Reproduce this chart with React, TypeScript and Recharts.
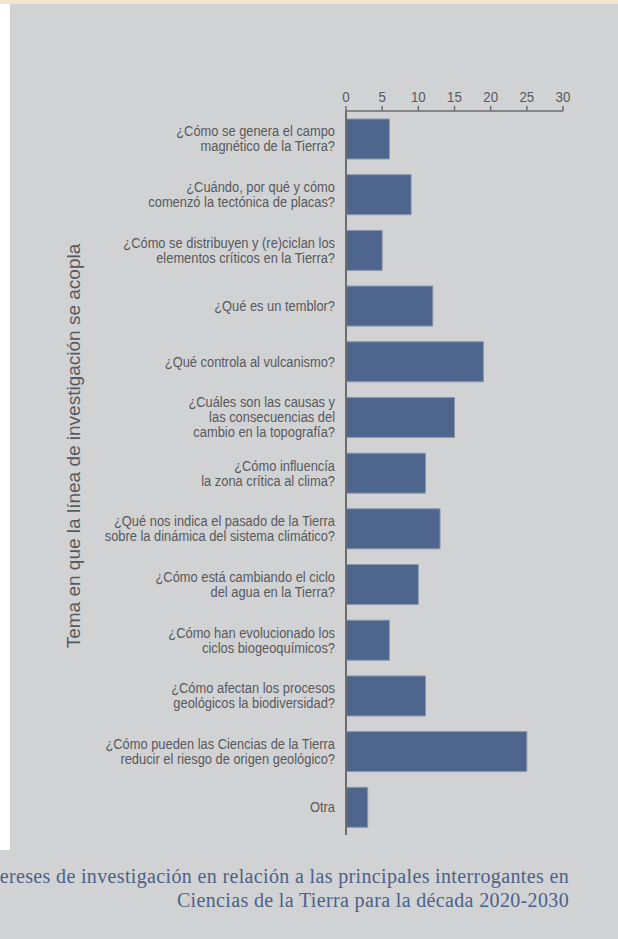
import React from "react";
import { BarChart, Bar, XAxis, YAxis } from "recharts";

// preguntas (saltos de línea como en la figura)
const categories = [
  "¿Cómo se genera el campo\nmagnético de la Tierra?",
  "¿Cuándo, por qué y cómo\ncomenzó la tectónica de placas?",
  "¿Cómo se distribuyen y (re)ciclan los\nelementos críticos en la Tierra?",
  "¿Qué es un temblor?",
  "¿Qué controla al vulcanismo?",
  "¿Cuáles son las causas y\nlas consecuencias del\ncambio en la topografía?",
  "¿Cómo influencía\nla zona crítica al clima?",
  "¿Qué nos indica el pasado de la Tierra\nsobre la dinámica del sistema climático?",
  "¿Cómo está cambiando el ciclo\ndel agua en la Tierra?",
  "¿Cómo han evolucionado los\nciclos biogeoquímicos?",
  "¿Cómo afectan los procesos\ngeológicos la biodiversidad?",
  "¿Cómo pueden las Ciencias de la Tierra\nreducir el riesgo de origen geológico?",
  "Otra",
];
const counts = [6, 9, 5, 12, 19, 15, 11, 13, 10, 6, 11, 25, 3];
const xTicks = [0, 5, 10, 15, 20, 25, 30];

const yTitle = "Tema en que la línea de investigación se acopla";
const captionLines = [
  "ereses de investigación en relación a las principales interrogantes en",
  "Ciencias de la Tierra para la década 2020-2030",
];

const data = categories.map((c, i) => ({ name: c, value: counts[i] }));

const TEXT = "#58595b";
const AXIS = "#6d6e70";
const SANS = "'Liberation Sans', Arial, sans-serif";
const SQUEEZE = 0.92; // la fuente original es condensada

const CategoryTick = ({ x, y, payload }: { x?: number; y?: number; payload?: { value: string } }) => {
  const lines = String(payload?.value ?? "").split("\n");
  const lh = 15;
  const y0 = -((lines.length - 1) * lh) / 2;
  return (
    <g transform={`translate(${x},${y}) scale(${SQUEEZE},1)`}>
      {lines.map((l, i) => (
        <text
          key={i}
          x={0}
          y={y0 + i * lh}
          dy="0.36em"
          textAnchor="end"
          fill={TEXT}
          fontSize={14}
          fontFamily={SANS}
        >
          {l}
        </text>
      ))}
    </g>
  );
};

const NumberTick = ({ x, y, payload }: { x?: number; y?: number; payload?: { value: number } }) => (
  <g transform={`translate(${x},${y}) scale(${SQUEEZE},1)`}>
    <text x={0} y={-1} textAnchor="middle" fill={TEXT} fontSize={14.5} fontFamily={SANS}>
      {payload?.value}
    </text>
  </g>
);

export default function App() {
  return (
    <div
      style={{
        position: "absolute",
        left: 0,
        top: 0,
        width: 618,
        height: 939,
        background: "#d1d2d4",
        overflow: "hidden",
      }}
    >
      <div style={{ position: "absolute", left: 0, top: 0, width: 618, height: 4, background: "#f3e4cf" }} />
      <div style={{ position: "absolute", left: 0, top: 4, width: 10, height: 846, background: "#ffffff" }} />

      <div style={{ position: "absolute", left: 0, top: 0 }}>
        <BarChart
          width={618}
          height={939}
          data={data}
          layout="vertical"
          margin={{ top: 81, right: 55, left: 0, bottom: 104 }}
        >
          <XAxis
            type="number"
            orientation="top"
            domain={[0, 30]}
            ticks={xTicks}
            height={30}
            tickSize={5}
            tickMargin={3}
            axisLine={{ stroke: AXIS, strokeWidth: 1.5 }}
            tickLine={{ stroke: AXIS, strokeWidth: 1.5 }}
            tick={<NumberTick />}
            interval={0}
          />
          <YAxis
            type="category"
            dataKey="name"
            width={346}
            tickSize={0}
            tickMargin={11}
            axisLine={{ stroke: AXIS, strokeWidth: 2 }}
            tickLine={false}
            tick={<CategoryTick />}
            interval={0}
          />
          <Bar
            dataKey="value"
            fill="#4e668e"
            stroke="#8a97ad"
            strokeWidth={1}
            barSize={40}
            isAnimationActive={false}
          />
        </BarChart>
      </div>

      <div
        style={{
          position: "absolute",
          left: 74 - 260,
          top: 446 - 12,
          width: 520,
          height: 24,
          lineHeight: "24px",
          textAlign: "center",
          transform: "rotate(-90deg)",
          fontFamily: SANS,
          fontSize: 19,
          color: TEXT,
        }}
      >
        {yTitle}
      </div>

      <div
        style={{
          position: "absolute",
          right: 49,
          top: 864,
          textAlign: "right",
          whiteSpace: "pre",
          fontFamily: "'Liberation Serif', 'Times New Roman', serif",
          fontSize: 20,
          letterSpacing: 0.35,
          lineHeight: "24px",
          color: "#4d6189",
        }}
      >
        {captionLines.map((l, i) => (
          <div key={i}>{l}</div>
        ))}
      </div>
    </div>
  );
}
